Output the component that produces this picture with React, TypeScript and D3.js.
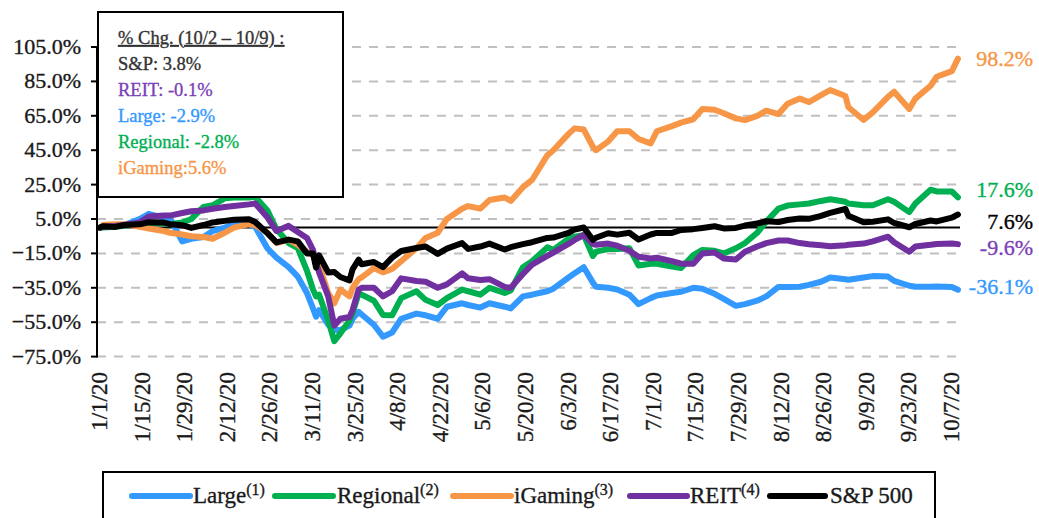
import React from "react";
import * as d3 from "d3";

const dates = ["1/1","1/2","1/6","1/9","1/14","1/17","1/22","1/24","1/28","1/31",
  "2/4","2/7","2/11","2/14","2/19","2/21","2/25","2/28",
  "3/3","3/6","3/9","3/11","3/12","3/13","3/16","3/18","3/20","3/23","3/24","3/26","3/27","3/31",
  "4/3","4/6","4/9","4/14","4/17","4/21","4/24","4/29",
  "5/1","5/5","5/8","5/13","5/15","5/19","5/22","5/27","5/29",
  "6/3","6/5","6/8","6/11","6/12","6/16","6/19","6/23","6/26","6/30",
  "7/2","7/7","7/10","7/14","7/17","7/21","7/24","7/28","7/31",
  "8/4","8/7","8/11","8/14","8/18","8/21","8/25","8/28",
  "9/2","9/3","9/8","9/11","9/16","9/18","9/23","9/25","9/30",
  "10/2","10/7","10/9"];

const large = [0, 0.5, 1, 1.5, 5, 8, 5.6, 5.5, -8, -6.5,
  -5.5, -2, 0, 2, 2, 0.5, -12, -17.5,
  -23, -28.5, -38, -47, -51.8, -48, -56.5, -59.5, -59.5, -57, -53, -49, -50.5, -56.5,
  -63.4, -61, -53, -50, -51, -53, -46, -44,
  -45, -46.5, -44, -46, -47, -40, -39, -37, -35.5,
  -29, -26.6, -23, -32, -34.4, -35, -36, -39, -44.5, -41,
  -39.5, -38, -37.3, -35, -35.5, -38.5, -41.5, -45.5, -44.5,
  -42.5, -40, -34.5, -34.5, -34.4, -33.3, -31.5, -29,
  -30, -30.3, -29, -28.2, -28.5, -31, -33.8, -34.4, -34.4,
  -34.2, -34.5, -36.1];

const regional = [0, 0, 0.5, 1, 2, 2.5, 2.5, 2, 3, 5,
  12, 13, 17, 17.5, 17.5, 18, 10, -1,
  -9, -12, -25, -36, -40, -39, -54, -66, -61.5, -54, -49.8, -38.2, -39, -42.5,
  -50.8, -51, -41, -37, -42, -45, -41, -36,
  -37, -39, -35, -38, -36.5, -23, -19.5, -11.5, -13,
  -6.5, -5.3, -4.5, -16.5, -14, -12.5, -12.5, -12, -22, -21,
  -21, -22.7, -23.5, -16, -13, -13.5, -15, -12, -9,
  -3, 3.5, 11, 12.8, 13.5, 14, 15.5, 16.5,
  15, 14, 13, 13, 16.5, 15, 9, 14, 22,
  21, 21, 17.6];

const igaming = [0, 1.5, 2, 2, 0.5, -0.5, -2, -3, -4, -5,
  -5.5, -6.5, -3, 0, 2, 1.5, -3, -9,
  -7, -10, -14, -16, -18, -22, -38, -44, -36, -40, -35, -30, -29, -23.5,
  -26, -24, -19.5, -12, -6, -3, 5, 11,
  12.5, 11, 16, 17.5, 15.5, 23.5, 27.7, 42, 45,
  54.5, 57.7, 57, 47, 45, 50, 56, 56, 51.5, 49,
  56, 59, 61, 63, 69, 68.5, 66.5, 63.5, 62.5,
  65, 68, 66, 72, 75, 73, 77, 80,
  76.5, 70, 62.6, 67, 76, 79, 69, 75, 82.5,
  87.7, 91, 98.2];

const reit = [0, 0.5, 1, 1.5, 3, 6.5, 7, 7, 8.5, 9.5,
  10, 11, 12, 12.5, 13.5, 14, 6, -2,
  1, -2.5, -6, -13, -20, -26, -40, -57, -53, -52, -48, -36, -35, -35,
  -40, -37, -29.5, -31, -31.5, -35, -33, -26.6,
  -29.5, -30.5, -30, -34.5, -35, -27, -21.5, -16.5, -14.5,
  -9.5, -7.2, -4.3, -9.5, -10, -9.3, -10.5, -13.5, -17, -18,
  -17.5, -19.5, -21, -21, -15, -14.5, -18, -18.5, -14,
  -11, -9, -7.5, -7.5, -9, -9.7, -10.3, -10.8,
  -10.2, -10, -9.3, -8, -5.3, -8.5, -14, -11, -10,
  -9.5, -9.2, -9.6];

const sp500 = [0, 0.8, 0.4, 1.5, 1.9, 3.1, 2.9, 2.0, 1.4, -0.2,
  1.5, 3.0, 3.9, 4.6, 4.8, 3.3, -3.2, -8.6,
  -7.0, -8.0, -15.0, -15.1, -23.2, -16.1, -26.1, -25.8, -28.7, -30.75, -24.3, -18.6, -21.3, -20.0,
  -23.0, -17.5, -13.6, -11.9, -11.0, -15.3, -12.2, -9.0,
  -12.4, -11.0, -9.3, -12.7, -11.4, -9.6, -8.5, -6.0, -5.8,
  -3.1, -1.1, 0.05, -7.1, -5.9, -3.3, -4.1, -3.0, -6.9, -4.0,
  -3.1, -3.1, -1.4, -0.9, -0.2, 0.8, -0.5, -0.2, 1.2,
  2.4, 3.7, 3.2, 4.4, 5.3, 5.1, 6.8, 8.6,
  10.8, 6.9, 3.1, 3.4, 4.8, 2.7, 0.2, 2.1, 4.1,
  3.6, 5.8, 7.6];

const xTickLabels = ["1/1/20","1/15/20","1/29/20","2/12/20","2/26/20","3/11/20","3/25/20","4/8/20",
  "4/22/20","5/6/20","5/20/20","6/3/20","6/17/20","7/1/20","7/15/20","7/29/20","8/12/20",
  "8/26/20","9/9/20","9/23/20","10/7/20"];
const yTicks = [-75, -55, -35, -15, 5, 25, 45, 65, 85, 105];

const C = {
  large: "#3399FF",
  regional: "#00B050",
  igaming: "#F79646",
  reit: "#7030A0",
  sp: "#000000",
};

const seriesList = [
  { key: "large", name: "Large", sup: "(1)", values: large, color: C.large },
  { key: "regional", name: "Regional", sup: "(2)", values: regional, color: C.regional },
  { key: "igaming", name: "iGaming", sup: "(3)", values: igaming, color: C.igaming },
  { key: "reit", name: "REIT", sup: "(4)", values: reit, color: C.reit },
  { key: "sp", name: "S&P 500", sup: "", values: sp500, color: C.sp },
];

const boxLines = [
  { text: "% Chg. (10/2 \u2013 10/9) :", color: "#333333", underline: true },
  { text: "S&P: 3.8%", color: "#333333" },
  { text: "REIT: -0.1%", color: "#7a3fb8" },
  { text: "Large: -2.9%", color: C.large },
  { text: "Regional: -2.8%", color: C.regional },
  { text: "iGaming:5.6%", color: C.igaming },
];

const endLabels = [
  { text: "98.2%", value: 98.2, dy: 0, color: C.igaming },
  { text: "17.6%", value: 17.6, dy: -7, color: C.regional },
  { text: "7.6%", value: 7.6, dy: 7.5, color: "#000" },
  { text: "-9.6%", value: -9.6, dy: 4, color: "#7a3fb8" },
  { text: "-36.1%", value: -36.1, dy: -3, color: C.large },
];

const FONT = "'Liberation Serif', 'Times New Roman', serif";

function parseMD(s: string) {
  const [m, d] = s.split("/").map(Number);
  return new Date(2020, m - 1, d);
}

export default function App() {
  const W = 1039, H = 518;
  const x = d3.scaleTime().domain([new Date(2019, 11, 31), new Date(2020, 9, 10)]).range([97, 961]);
  const y = d3.scaleLinear().domain([-75, 105]).range([356.6, 47]);
  const plotLeft = 97, plotRight = 960;

  const pts = dates.map(parseMD);
  const line = (vals: number[]) =>
    d3.line<number>().x((_, i) => x(pts[i])).y((v) => y(v))(vals) || "";

  const legendItems = [
    { x0: 132, x1: 190, tx: 193 },
    { x0: 275, x1: 333, tx: 337 },
    { x0: 453, x1: 511, tx: 514 },
    { x0: 630, x1: 687, tx: 690 },
    { x0: 770, x1: 825, tx: 830 },
  ];

  const heavy = (c: string) => ({ stroke: c, strokeWidth: 0.35 });

  return (
    <svg width={W} height={H} style={{ position: "absolute", left: 0, top: 0, background: "#fff" }} fontFamily={FONT}>
      <rect x={0} y={0} width={W} height={H} fill="#fff" />
      {yTicks.map((t) => (
        <line key={t} x1={plotLeft} x2={plotRight} y1={y(t)} y2={y(t)} stroke="#C0C0C0" strokeWidth={2} strokeDasharray="9,8" />
      ))}
      <line x1={plotLeft} x2={plotRight} y1={y(0)} y2={y(0)} stroke="#000" strokeWidth={2} />
      {seriesList.map((s) => (
        <path key={s.key} d={line(s.values)} fill="none" stroke={s.color} strokeWidth={6} strokeLinejoin="round" strokeLinecap="round" />
      ))}
      <line x1={plotLeft} x2={plotLeft} y1={y(105) - 1} y2={y(-75) + 1} stroke="#000" strokeWidth={2} />
      {yTicks.map((t) => (
        <g key={t}>
          <line x1={plotLeft - 6} x2={plotLeft} y1={y(t)} y2={y(t)} stroke="#000" strokeWidth={2} />
          <text x={81} y={y(t) + 7} textAnchor="end" fontSize={22} fill="#1a1a1a" {...heavy("#1a1a1a")}>{d3.format(".1f")(t) + "%"}</text>
        </g>
      ))}
      {xTickLabels.map((lab) => {
        const [m, d] = lab.split("/").map(Number);
        const xx = x(new Date(2020, m - 1, d));
        return (
          <text key={lab} transform={`translate(${xx + 7},372) rotate(-90)`} textAnchor="end" fontSize={23} fill="#1a1a1a" {...heavy("#1a1a1a")}>{lab}</text>
        );
      })}
      <rect x={98} y={12} width={245} height={185} fill="#fff" stroke="#000" strokeWidth={2} />
      {boxLines.map((l, i) => (
        <text key={i} x={118} y={44 + i * 26} fontSize={18.5} fill={l.color} {...heavy(l.color)} style={l.underline ? { textDecoration: "underline" } : undefined}>{l.text}</text>
      ))}
      {endLabels.map((l) => (
        <text key={l.text} x={1033} y={y(l.value) + l.dy + 7} textAnchor="end" fontSize={22} fill={l.color} {...heavy(l.color)}>{l.text}</text>
      ))}
      <rect x={103} y={472} width={832} height={70} fill="#fff" stroke="#000" strokeWidth={2} />
      {seriesList.map((s, i) => {
        const it = legendItems[i];
        return (
          <g key={s.key}>
            <line x1={it.x0} x2={it.x1} y1={496} y2={496} stroke={s.color} strokeWidth={6} strokeLinecap="round" />
            <text x={it.tx} y={503} fontSize={23} fill="#1a1a1a" {...heavy("#1a1a1a")}>
              {s.name}
              {s.sup ? <tspan dy={-8} fontSize={16}>{s.sup}</tspan> : null}
            </text>
          </g>
        );
      })}
    </svg>
  );
}
